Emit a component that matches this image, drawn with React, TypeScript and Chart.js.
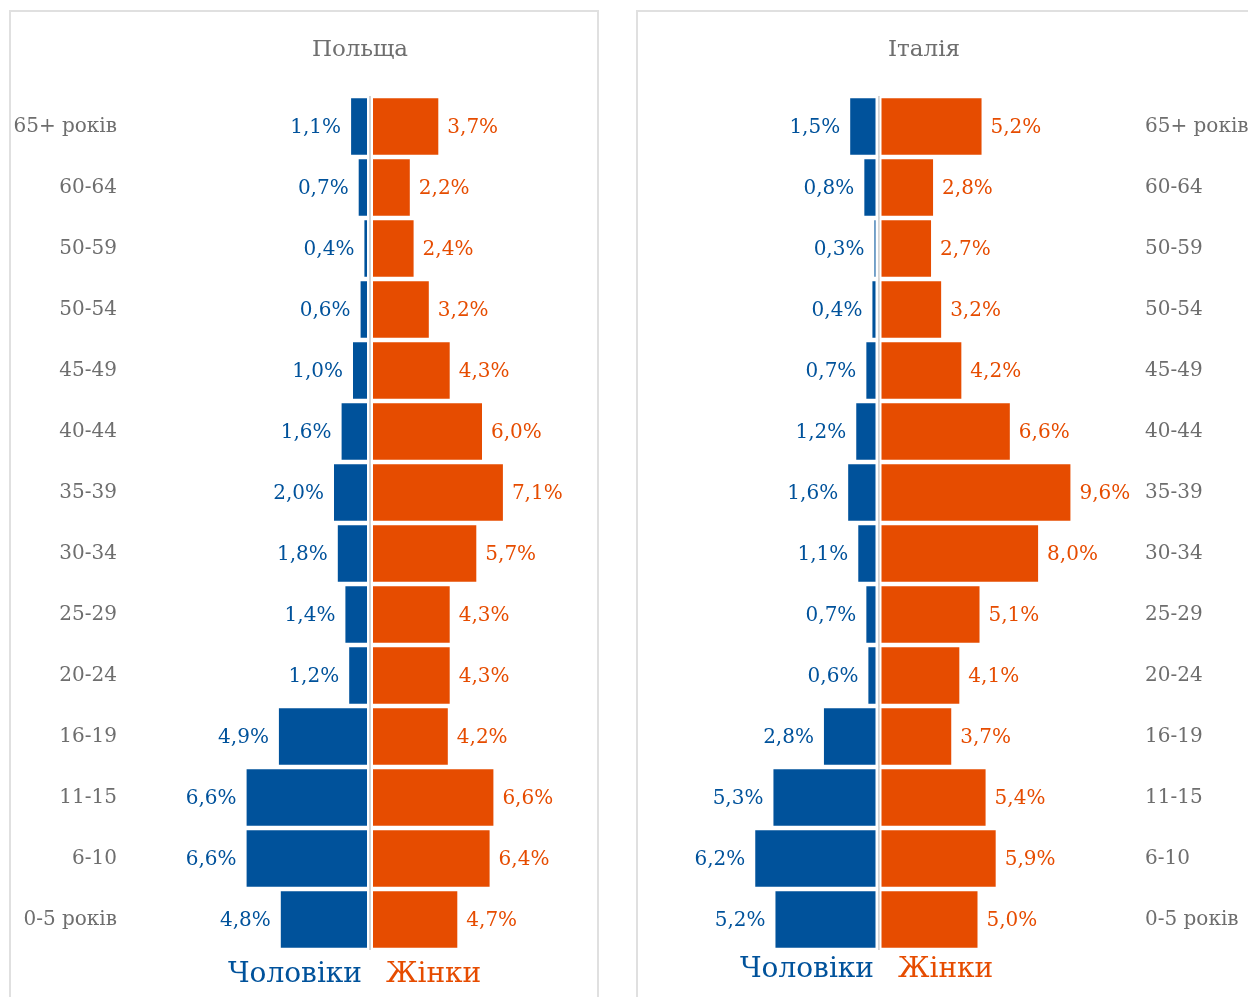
import { useEffect, useRef } from 'react';
import { Chart, registerables } from 'chart.js';

Chart.register(...registerables);

// ---- data ----
const ageGroups = ['65+ років', '60-64', '50-59', '50-54', '45-49', '40-44', '35-39', '30-34', '25-29', '20-24', '16-19', '11-15', '6-10', '0-5 років'];
const polandMen = [1.1, 0.7, 0.4, 0.6, 1.0, 1.6, 2.0, 1.8, 1.4, 1.2, 4.9, 6.6, 6.6, 4.8];
const polandWomen = [3.7, 2.2, 2.4, 3.2, 4.3, 6.0, 7.1, 5.7, 4.3, 4.3, 4.2, 6.6, 6.4, 4.7];
const italyMen = [1.5, 0.8, 0.3, 0.4, 0.7, 1.2, 1.6, 1.1, 0.7, 0.6, 2.8, 5.3, 6.2, 5.2];
const italyWomen = [5.2, 2.8, 2.7, 3.2, 4.2, 6.6, 9.6, 8.0, 5.1, 4.1, 3.7, 5.4, 5.9, 5.0];
const seriesNames = ['Чоловіки', 'Жінки'];
const countryTitles = ['Польща', 'Італія'];

// ---- styles ----
const BLUE = '#00529b';
const ORANGE = '#e64c00';
const GRAY_TEXT = '#6e6e6e';
const FONT = "'DejaVu Serif', serif";

const fmt = (v: number) => v.toFixed(1).replace('.', ',') + '%';

const pyramidText = {
  id: 'pyramidText',
  afterDraw(chart: any, _args: any, opts: any) {
    const ctx = chart.ctx;
    const area = chart.chartArea;
    const xScale = chart.scales.x;
    const zero = xScale.getPixelForValue(0);
    ctx.save();
    // value labels
    ctx.font = `20px ${FONT}`;
    ctx.textBaseline = 'middle';
    chart.data.datasets.forEach((ds: any, di: number) => {
      const meta = chart.getDatasetMeta(di);
      meta.data.forEach((bar: any, i: number) => {
        const v = Math.abs(ds.data[i]);
        ctx.fillStyle = di === 0 ? BLUE : ORANGE;
        if (di === 0) {
          ctx.textAlign = 'right';
          ctx.fillText(fmt(v), bar.x - opts.menGap, bar.y + 1);
        } else {
          ctx.textAlign = 'left';
          ctx.fillText(fmt(v), bar.x + opts.womenGap, bar.y + 1);
        }
      });
    });
    // title
    ctx.font = `23px ${FONT}`;
    ctx.fillStyle = GRAY_TEXT;
    ctx.textAlign = 'center';
    ctx.fillText(opts.title, opts.titleX, area.top - 46);
    // legend
    ctx.font = `28px ${FONT}`;
    ctx.fillStyle = BLUE;
    ctx.textAlign = 'right';
    ctx.fillText(seriesNames[0], zero + opts.menLegendDx, area.bottom + opts.legendDy);
    ctx.fillStyle = ORANGE;
    ctx.textAlign = 'left';
    ctx.fillText(seriesNames[1], zero + opts.womenLegendDx, area.bottom + opts.legendDy);
    ctx.restore();
  },
};

interface PanelProps {
  title: string;
  men: number[];
  women: number[];
  min: number;
  max: number;
  axisPos: 'left' | 'right';
  axisWidth: number;
  padLeft: number;
  padRight: number;
  titleX: number;
  legendDy: number;
  menLegendDx: number;
  womenLegendDx: number;
  width: number;
  height: number;
  left: number;
  top: number;
}

function Pyramid(p: PanelProps) {
  const ref = useRef<HTMLCanvasElement | null>(null);
  useEffect(() => {
    if (!ref.current) return;
    const chart = new Chart(ref.current, {
      type: 'bar',
      data: {
        labels: ageGroups,
        datasets: [
          {
            label: seriesNames[0],
            data: p.men.map((v) => -v),
            backgroundColor: BLUE,
            borderColor: '#ffffff',
            borderWidth: 2,
            borderSkipped: false,
            barPercentage: 0.99,
            categoryPercentage: 1,
          },
          {
            label: seriesNames[1],
            data: p.women,
            backgroundColor: ORANGE,
            borderColor: '#ffffff',
            borderWidth: 2,
            borderSkipped: false,
            barPercentage: 0.99,
            categoryPercentage: 1,
          },
        ],
      },
      options: {
        indexAxis: 'y',
        responsive: false,
        animation: false,
        layout: { padding: { left: p.padLeft, right: p.padRight, top: 84, bottom: 47 } },
        plugins: {
          legend: { display: false },
          title: { display: false },
          tooltip: { enabled: false },
          pyramidText: {
            title: p.title,
            titleX: p.titleX,
            legendDy: p.legendDy,
            menLegendDx: p.menLegendDx,
            womenLegendDx: p.womenLegendDx,
            menGap: 8,
            womenGap: 7,
          },
        } as any,
        scales: {
          x: {
            stacked: true,
            min: p.min,
            max: p.max,
            z: 1,
            ticks: { display: false, stepSize: 1 },
            border: { display: false },
            grid: {
              drawTicks: false,
              lineWidth: 2,
              color: (c: any) => (c.tick && c.tick.value === 0 ? '#d4d4d4' : 'rgba(0,0,0,0)'),
            },
            afterFit: (s: any) => {
              s.height = 0;
            },
          },
          y: {
            stacked: true,
            position: p.axisPos,
            grid: { display: false, drawTicks: false },
            border: { display: false },
            ticks: {
              padding: 8,
              color: GRAY_TEXT,
              font: { family: FONT, size: 20 },
            },
            afterFit: (s: any) => {
              s.width = p.axisWidth;
            },
          },
        },
      },
      plugins: [pyramidText],
    } as any);
    return () => chart.destroy();
  }, []);
  return (
    <canvas
      ref={ref}
      width={p.width}
      height={p.height}
      style={{ position: 'absolute', left: p.left, top: p.top, width: p.width, height: p.height }}
    />
  );
}

export default function App() {
  const panelBorder = {
    position: 'absolute' as const,
    top: 10,
    height: 1200,
    border: '2px solid #e0e0e0',
    boxSizing: 'border-box' as const,
  };
  return (
    <div
      style={{
        position: 'fixed',
        left: 0,
        top: 0,
        width: 1248,
        height: 997,
        overflow: 'hidden',
        background: '#ffffff',
      }}
    >
      <div style={{ ...panelBorder, left: 9, width: 590 }} />
      <div style={{ ...panelBorder, left: 636, width: 700 }} />
      <Pyramid
        title={countryTitles[0]}
        men={polandMen}
        women={polandWomen}
        min={-12.895}
        max={11.579}
        axisPos="left"
        axisWidth={114}
        padLeft={0}
        padRight={7}
        titleX={349}
        legendDy={25}
        menLegendDx={-8}
        womenLegendDx={16}
        width={586}
        height={985}
        left={11}
        top={12}
      />
      <Pyramid
        title={countryTitles[1]}
        men={italyMen}
        women={italyWomen}
        min={-11.51}
        max={12.797}
        axisPos="right"
        axisWidth={141}
        padLeft={8}
        padRight={0}
        titleX={286}
        legendDy={20}
        menLegendDx={-4.5}
        womenLegendDx={19.5}
        width={640}
        height={985}
        left={638}
        top={12}
      />
    </div>
  );
}
